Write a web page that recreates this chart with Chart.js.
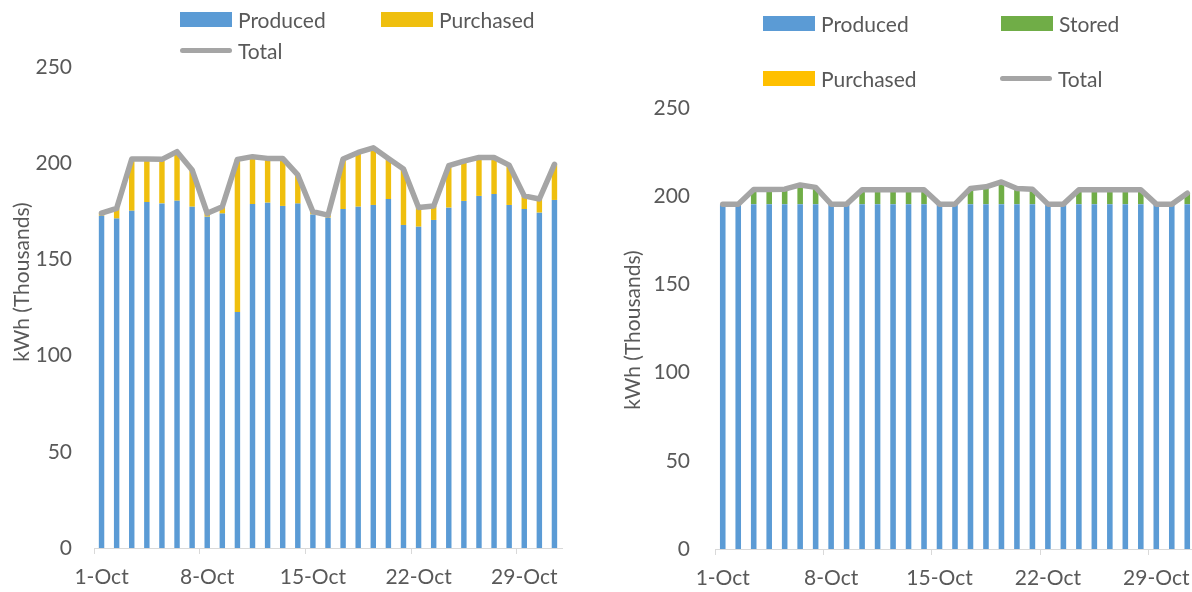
<!DOCTYPE html>
<html>
<head>
<meta charset="utf-8">
<script src="https://cdn.jsdelivr.net/npm/chart.js@4.4.1/dist/chart.umd.min.js"></script>
<style>
  html, body { margin: 0; padding: 0; background: #fff; width: 1192px; height: 592px; overflow: hidden; }
  .panel { position: absolute; top: 0; height: 592px; }
  #leftPanel { left: 0; width: 596px; }
  #rightPanel { left: 600px; width: 600px; }
  .item { position: absolute; height: 26px; display: flex; align-items: center; white-space: nowrap;
          font: 21px Lato, sans-serif; color: #595959; }
  .swatch { width: 52px; height: 15px; margin-right: 6px; }
  .lineSwatch { width: 52px; height: 5px; border-radius: 3px; margin-right: 6px; }
</style>
</head>
<body>
<div class="panel" id="leftPanel"><canvas id="leftChart" width="596" height="592"></canvas></div>
<div class="panel" id="rightPanel"><canvas id="rightChart" width="600" height="592"></canvas></div>
<div id="legends"></div>
<script>
// Days of October
const dates = ['1-Oct','2-Oct','3-Oct','4-Oct','5-Oct','6-Oct','7-Oct','8-Oct','9-Oct','10-Oct',
  '11-Oct','12-Oct','13-Oct','14-Oct','15-Oct','16-Oct','17-Oct','18-Oct','19-Oct','20-Oct',
  '21-Oct','22-Oct','23-Oct','24-Oct','25-Oct','26-Oct','27-Oct','28-Oct','29-Oct','30-Oct','31-Oct'];
const tickLabels = ['1-Oct','8-Oct','15-Oct','22-Oct','29-Oct'];
const yTicks = [0, 50, 100, 150, 200, 250];
const yTitle = 'kWh (Thousands)';

// Current operation (kWh, thousands)
const producedA = [172.7,171.2,175.3,179.8,179.1,180.5,177.4,172.2,173.8,122.7,178.8,179.5,177.8,179.0,173.4,171.7,
  176.2,177.4,178.3,181.4,167.9,167.0,170.5,176.9,180.4,183.0,184.0,178.3,176.2,174.3,180.9];
const purchasedA = [1.3,5.3,26.9,22.4,22.9,25.5,19.1,1.8,3.6,79.3,24.6,23.0,24.7,14.9,1.4,1.3,
  26.0,28.2,29.7,21.1,29.1,10.0,7.3,21.8,20.7,20.0,19.0,20.7,6.8,7.1,18.5];
const totalA = [174.0,176.5,202.2,202.2,202.0,206.0,196.5,174.0,177.4,202.0,203.4,202.5,202.5,193.9,174.8,173.0,
  202.2,205.6,208.0,202.5,197.0,177.0,177.8,198.7,201.1,203.0,203.0,199.0,183.0,181.4,199.4];

// Operation with storage (kWh, thousands)
const producedB = [195.5,195.5,195.5,195.5,195.5,195.5,195.5,195.5,195.5,195.5,195.5,195.5,195.5,195.5,195.5,195.5,
  195.5,195.5,195.5,195.5,195.5,195.5,195.5,195.5,195.5,195.5,195.5,195.5,195.5,195.5,195.5];
const storedB = [0,0,8.3,8.3,8.5,10.9,9.5,0,0,8.1,8.1,8.1,8.1,8.1,0,0,
  8.9,9.8,11.1,8.9,8.5,0,0,8.1,8.1,8.1,8.1,8.1,0,0,6.2];
const purchasedB = [0,0,0,0,0,0,0,0,0,0,0,0,0,0,0,0,0,0,1.5,0,0,0,0,0,0,0,0,0,0,0,0];
const totalB = [195.5,195.5,203.8,203.8,204.0,206.4,205.0,195.5,195.5,203.6,203.6,203.6,203.6,203.6,195.5,195.5,
  204.4,205.3,208.1,204.4,204.0,195.5,195.5,203.6,203.6,203.6,203.6,203.6,195.5,195.5,201.7];

const BLUE = '#5B9BD5', GOLD = '#EFBF0E', AMBER = '#FFC000', GREEN = '#70AD47', GREY = '#A5A5A5';
const TEXT = '#595959';
const FONT = { family: 'Lato', size: 21 };

function barSet(label, data, color) {
  return { type: 'bar', label, data, backgroundColor: color, stack: 'energy', order: 1,
           barPercentage: 0.36, categoryPercentage: 1.0 };
}
function lineSet(label, data) {
  return { type: 'line', label, data, borderColor: GREY, backgroundColor: GREY, borderWidth: 5.5,
           pointRadius: 0, tension: 0, stack: 'total', order: 0,
           borderJoinStyle: 'round', borderCapStyle: 'round' };
}

// Vertical axis title, drawn at a set centre on the canvas
const axisTitle = {
  id: 'axisTitle',
  afterDraw(chart, args, opts) {
    const ctx = chart.ctx;
    ctx.save();
    ctx.translate(opts.x, opts.y);
    ctx.rotate(-Math.PI / 2);
    ctx.font = FONT.size + 'px ' + FONT.family;
    ctx.fillStyle = TEXT;
    ctx.textAlign = 'center';
    ctx.textBaseline = 'middle';
    ctx.fillText(yTitle, 0, 0);
    ctx.restore();
  }
};

function makeChart(id, datasets, cfg) {
  return new Chart(document.getElementById(id), {
    data: { labels: dates, datasets },
    plugins: [axisTitle],
    options: {
      responsive: false,
      animation: false,
      layout: { padding: cfg.padding },
      plugins: { legend: { display: false }, tooltip: { enabled: false }, axisTitle: cfg.title },
      scales: {
        x: {
          stacked: true,
          offset: true,
          afterFit: (s) => { s.height = cfg.xHeight; },
          grid: {
            offset: true, drawOnChartArea: false, drawTicks: true, tickLength: 6, lineWidth: 1,
            color: (c) => (c.index !== undefined && tickLabels.includes(dates[c.index])) ? '#D9D9D9' : 'rgba(0,0,0,0)'
          },
          border: { display: true, color: '#D9D9D9', width: 1 },
          ticks: {
            autoSkip: false, maxRotation: 0, minRotation: 0, color: TEXT, font: FONT, padding: 11,
            callback: (v, i) => tickLabels.includes(dates[i]) ? dates[i] : ''
          }
        },
        y: {
          stacked: true,
          min: yTicks[0],
          max: yTicks[yTicks.length - 1],
          afterFit: (s) => { s.width = cfg.yWidth; },
          afterBuildTicks: (s) => { s.ticks = yTicks.map(v => ({ value: v })); },
          ticks: { color: TEXT, font: FONT, padding: cfg.yPad },
          grid: { display: false, drawTicks: false },
          border: { display: false },
          title: { display: false }
        }
      }
    }
  });
}

const leftChart = makeChart('leftChart', [
  barSet('Produced', producedA, BLUE),
  barSet('Purchased', purchasedA, GOLD),
  lineSet('Total', totalA)
], { padding: { left: 5, top: 67, right: 34, bottom: 2 }, yWidth: 89, yPad: 22, xHeight: 42,
     title: { x: 22, y: 282 } });

const rightChart = makeChart('rightChart', [
  barSet('Produced', producedB, BLUE),
  barSet('Stored', storedB, GREEN),
  barSet('Purchased', purchasedB, AMBER),
  lineSet('Total', totalB)
], { padding: { left: 15, top: 108, right: 5, bottom: 1 }, yWidth: 100, yPad: 25, xHeight: 42,
     title: { x: 33, y: 330 } });

// Legends, placed in two columns above each plot
function legend(chart, spots) {
  const host = document.getElementById('legends');
  chart.data.datasets.forEach((ds, i) => {
    const [x, cy] = spots[i];
    const item = document.createElement('div');
    item.className = 'item';
    item.style.left = x + 'px';
    item.style.top = (cy - 13) + 'px';
    const sw = document.createElement('div');
    sw.className = ds.type === 'line' ? 'lineSwatch' : 'swatch';
    sw.style.background = ds.type === 'line' ? ds.borderColor : ds.backgroundColor;
    const tx = document.createElement('span');
    tx.textContent = ds.label;
    item.appendChild(sw);
    item.appendChild(tx);
    host.appendChild(item);
  });
}
legend(leftChart, [[180, 19], [381, 19], [180, 50]]);
legend(rightChart, [[763, 23], [1001, 23], [763, 78], [1000, 78]]);
</script>
</body>
</html>
